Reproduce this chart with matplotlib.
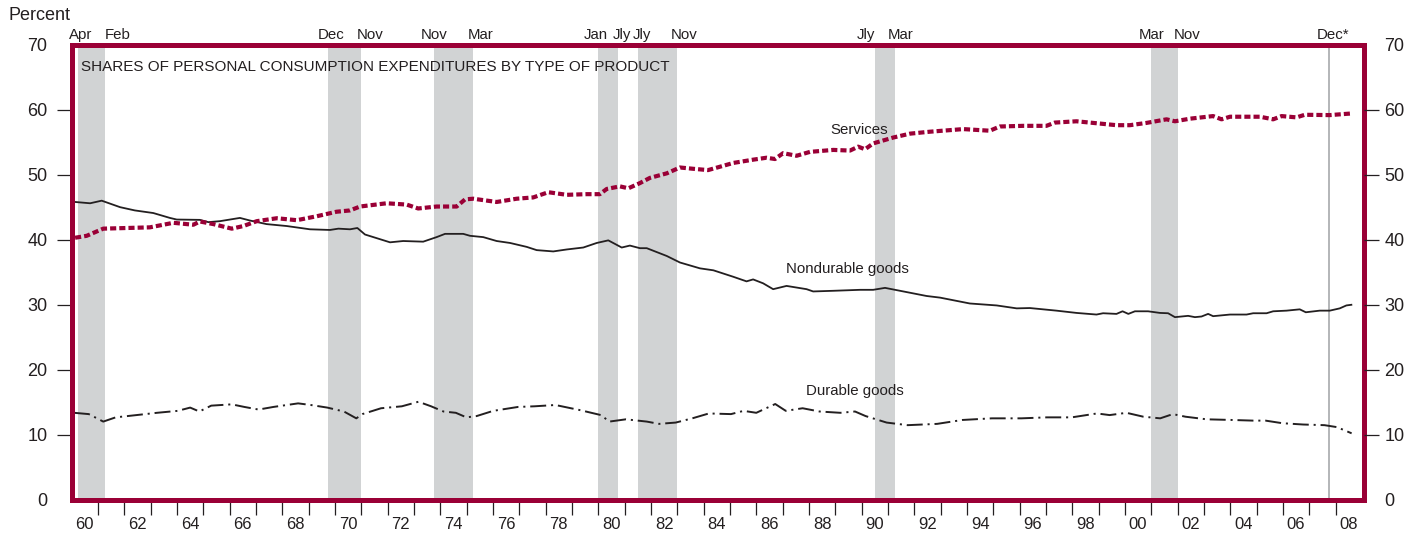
import numpy as np
import matplotlib.pyplot as plt

plt.rcParams['font.family'] = ['Liberation Sans', 'DejaVu Sans']
plt.rcParams['lines.scale_dashes'] = False

# recessions (quarterly peak to trough) and their month labels
rec_start = [1960.25, 1969.75, 1973.75, 1980.0, 1981.5, 1990.5, 2001.0]
rec_end = [1961.25, 1971.0, 1975.25, 1980.75, 1983.0, 1991.25, 2002.0]
start_labels = ['Apr', 'Dec', 'Nov', 'Jan', 'Jly', 'Jly', 'Mar']
end_labels = ['Feb', 'Nov', 'Mar', 'Jly', 'Nov', 'Mar', 'Nov']
latest_peak = 2007.75

# shares of PCE, percent
svc_year = [1960.13, 1960.57, 1961.2, 1962.09, 1962.97, 1963.86, 1964.62, 1964.87, 1965.38,
            1966.08, 1966.52, 1967.03, 1967.79, 1968.55, 1969.3, 1970.06, 1970.57, 1970.95,
            1971.96, 1972.72, 1973.16, 1973.86, 1974.62, 1974.94, 1975.25, 1976.14, 1976.9,
            1977.53, 1978.1, 1978.8, 1979.56, 1980.06, 1980.32, 1980.82, 1981.14, 1981.58,
            1981.96, 1982.6, 1983.1, 1983.6, 1984.17, 1985.13, 1985.88, 1986.39, 1986.71,
            1987.02, 1987.53, 1988.04, 1988.92, 1989.56, 1989.87, 1990.13, 1990.44, 1991.2,
            1991.84, 1992.6, 1993.86, 1994.87, 1995.25, 1996.14, 1997.02, 1997.34, 1998.16,
            1998.92, 1999.68, 2000.19, 2000.82, 2001.58, 2001.9, 2002.47, 2003.35, 2003.67,
            2003.99, 2005.13, 2005.63, 2005.95, 2006.52, 2006.83, 2007.78, 2008.6]
svc_share = [40.3, 40.6, 41.7, 41.8, 41.9, 42.6, 42.3, 42.8, 42.4,
             41.7, 42.1, 42.85, 43.3, 43.0, 43.6, 44.3, 44.5, 45.1,
             45.6, 45.4, 44.8, 45.1, 45.1, 46.2, 46.3, 45.8, 46.3,
             46.5, 47.3, 46.9, 47.0, 47.0, 47.8, 48.2, 47.9, 48.7,
             49.5, 50.2, 51.1, 50.9, 50.7, 51.8, 52.3, 52.6, 52.4,
             53.3, 52.9, 53.5, 53.8, 53.7, 54.3, 53.9, 54.8, 55.7,
             56.3, 56.6, 57.0, 56.75, 57.4, 57.5, 57.5, 58.0, 58.2,
             57.9, 57.6, 57.6, 57.95, 58.5, 58.2, 58.6, 59.0, 58.5,
             58.9, 58.9, 58.5, 59.0, 58.8, 59.2, 59.15, 59.4]

nondur_year = [1960.13, 1960.7, 1961.14, 1961.84, 1962.4, 1963.1, 1963.73, 1963.99, 1964.87,
               1965.19, 1965.63, 1966.01, 1966.39, 1966.77, 1967.4, 1968.17, 1969.05, 1969.81,
               1970.13, 1970.57, 1970.85, 1971.14, 1972.09, 1972.59, 1973.35, 1973.86, 1974.18,
               1974.87, 1975.13, 1975.63, 1976.14, 1976.65, 1977.28, 1977.66, 1978.29, 1978.8,
               1979.43, 1979.94, 1980.38, 1980.89, 1981.2, 1981.58, 1981.84, 1982.6, 1983.1,
               1983.86, 1984.37, 1985.13, 1985.63, 1985.88, 1986.26, 1986.64, 1987.15, 1987.91,
               1988.16, 1988.92, 1989.94, 1990.44, 1990.89, 1991.46, 1992.47, 1992.98, 1994.11,
               1995.13, 1995.89, 1996.39, 1996.77, 1997.4, 1998.16, 1998.92, 1999.17, 1999.68,
               1999.91, 2000.13, 2000.38, 2000.88, 2001.33, 2001.64, 2001.9, 2002.4, 2002.66,
               2002.91, 2003.16, 2003.35, 2003.99, 2004.62, 2004.87, 2005.38, 2005.63, 2006.14,
               2006.64, 2006.87, 2007.4, 2007.78, 2008.16, 2008.41, 2008.6]
nondur_share = [45.8, 45.6, 46.0, 45.0, 44.5, 44.1, 43.35, 43.1, 43.05,
                42.7, 42.85, 43.1, 43.35, 42.95, 42.4, 42.1, 41.6, 41.5,
                41.7, 41.6, 41.8, 40.8, 39.6, 39.8, 39.7, 40.4, 40.9,
                40.9, 40.6, 40.4, 39.8, 39.5, 38.9, 38.4, 38.2, 38.5,
                38.8, 39.5, 39.9, 38.8, 39.1, 38.7, 38.7, 37.5, 36.5,
                35.6, 35.3, 34.3, 33.6, 33.9, 33.3, 32.4, 32.9, 32.4,
                32.05, 32.15, 32.3, 32.3, 32.6, 32.15, 31.35, 31.1, 30.2,
                29.9, 29.45, 29.5, 29.35, 29.1, 28.75, 28.5, 28.7, 28.6,
                29.0, 28.6, 29.0, 29.0, 28.75, 28.7, 28.1, 28.3, 28.1,
                28.2, 28.6, 28.25, 28.5, 28.5, 28.7, 28.7, 29.0, 29.1,
                29.3, 28.85, 29.1, 29.1, 29.45, 29.9, 30.0]

dur_year = [1960.09, 1960.65, 1961.2, 1961.67, 1962.46, 1963.24, 1964.03, 1964.5, 1964.85,
            1965.3, 1966.08, 1966.56, 1967.1, 1967.66, 1968.6, 1969.08, 1969.71, 1970.34,
            1970.81, 1971.04, 1971.75, 1972.54, 1973.17, 1973.65, 1974.12, 1974.59, 1974.99,
            1975.38, 1976.01, 1976.95, 1977.58, 1978.37, 1979.32, 1980.1, 1980.42, 1981.05,
            1981.84, 1982.31, 1982.94, 1983.57, 1984.2, 1985.04, 1985.52, 1986.0, 1986.72,
            1987.12, 1987.76, 1988.4, 1989.19, 1989.75, 1990.15, 1990.95, 1991.75, 1992.87,
            1993.83, 1994.95, 1996.07, 1997.03, 1997.98, 1998.94, 1999.42, 2000.06, 2000.7,
            2001.34, 2001.82, 2002.3, 2003.1, 2004.06, 2004.86, 2005.34, 2005.98, 2006.77,
            2007.58, 2008.05, 2008.61]
dur_share = [13.4, 13.2, 12.05, 12.7, 13.05, 13.4, 13.7, 14.2, 13.6,
             14.5, 14.7, 14.3, 13.9, 14.3, 14.85, 14.6, 14.2, 13.6,
             12.55, 13.2, 14.1, 14.4, 15.1, 14.4, 13.6, 13.4, 12.7,
             12.9, 13.7, 14.3, 14.4, 14.6, 13.8, 13.05, 12.05, 12.4,
             12.05, 11.7, 11.9, 12.55, 13.3, 13.2, 13.7, 13.4, 14.75,
             13.7, 14.1, 13.6, 13.4, 13.6, 12.9, 11.9, 11.5, 11.7,
             12.3, 12.55, 12.55, 12.7, 12.7, 13.3, 13.05, 13.4, 12.8,
             12.55, 13.2, 12.8, 12.4, 12.3, 12.2, 12.2, 11.8, 11.6,
             11.5, 11.2, 10.25]

crimson = '#9A0036'
shade = '#D1D3D4'
ink = '#231F20'

fig = plt.figure(figsize=(14.21, 5.40), dpi=100)
ax = fig.add_axes([71.67 / 1421, 40 / 540, (1364 - 71.67) / 1421, 455.5 / 540])
ax.set_xlim(1960, 2009.08)
ax.set_ylim(0, 70)

for s, e in zip(rec_start, rec_end):
    ax.axvspan(s, e, color=shade, lw=0, zorder=0)
ax.axvline(latest_peak, color='#A7A9AC', lw=1.2, zorder=1)

ax.plot(nondur_year, nondur_share, color=ink, lw=1.3, zorder=3)
ax.plot(dur_year, dur_share, color=ink, lw=1.4, dashes=(11.5, 3.5, 1.5, 3.5), zorder=3)
ax.plot(svc_year, svc_share, color=crimson, lw=3.0, dashes=(4.4, 2.2), zorder=4)

# series labels
ax.text(1989.9, 56.9, 'Services', fontsize=10.8, color=ink, ha='center', va='center')
ax.text(1989.48, 35.5, 'Nondurable goods', fontsize=10.8, color=ink, ha='center', va='center')
ax.text(1989.74, 16.7, 'Durable goods', fontsize=10.8, color=ink, ha='center', va='center')
ax.text(1960.35, 66.5, 'SHARES OF PERSONAL CONSUMPTION EXPENDITURES BY TYPE OF PRODUCT',
        fontsize=11, color=ink, ha='left', va='center')

# month labels above the frame
def month_label(x, txt, ha, dx):
    ax.annotate(txt, xy=(x, 1), xycoords=('data', 'axes fraction'),
                xytext=(dx, 4), textcoords='offset points',
                ha=ha, va='baseline', fontsize=10.8, color=ink, annotation_clip=False)

start_nudge = [1.5, 2, 0, -2, 3, -6, 0]
end_nudge = [0, -3, -4, -4, -5, -5, -3]
for i in range(len(rec_start)):
    month_label(rec_start[i], start_labels[i], 'center', start_nudge[i])
    month_label(rec_end[i], end_labels[i], 'left', end_nudge[i])
month_label(latest_peak, 'Dec*', 'center', 3)

fig.text(8 / 1421, 1 - 15 / 540, 'Percent', fontsize=13, color=ink, ha='left', va='center')

for sp in ax.spines.values():
    sp.set_color(crimson)
    sp.set_linewidth(3.6)
    sp.set_zorder(5)

# y axis, both sides
yt = np.arange(0, 71, 10)
ax.set_yticks(yt)
ax.set_yticklabels([str(v) for v in yt])
ax.tick_params(axis='y', direction='out', length=10.5, width=0.9, color=ink,
               labelsize=13, labelcolor=ink, pad=7)
ax2 = ax.twinx()
ax2.set_ylim(0, 70)
ax2.set_yticks(yt)
ax2.set_yticklabels([str(v) for v in yt])
ax2.tick_params(axis='y', direction='out', length=11, width=0.9, color=ink,
                labelsize=13, labelcolor=ink, pad=3.6)
for sp in ax2.spines.values():
    sp.set_visible(False)
for a in (ax, ax2):
    tks = a.yaxis.get_major_ticks()
    for t in (tks[0], tks[-1]):
        t.tick1line.set_visible(False)
        t.tick2line.set_visible(False)

# x axis: tick every year, labels centred in even years
ax.set_xticks(np.arange(1961, 2009))
ax.set_xticklabels([])
even = np.arange(1960, 2009, 2)
ax.set_xticks(even + 0.5, minor=True)
ax.set_xticklabels(['%02d' % (y % 100) for y in even], minor=True)
ax.tick_params(axis='x', which='major', direction='out', length=11, width=0.9, color=ink)
ax.tick_params(axis='x', which='minor', length=0, labelsize=12, labelcolor=ink, pad=12)

fig.savefig('out.png', dpi=100)
